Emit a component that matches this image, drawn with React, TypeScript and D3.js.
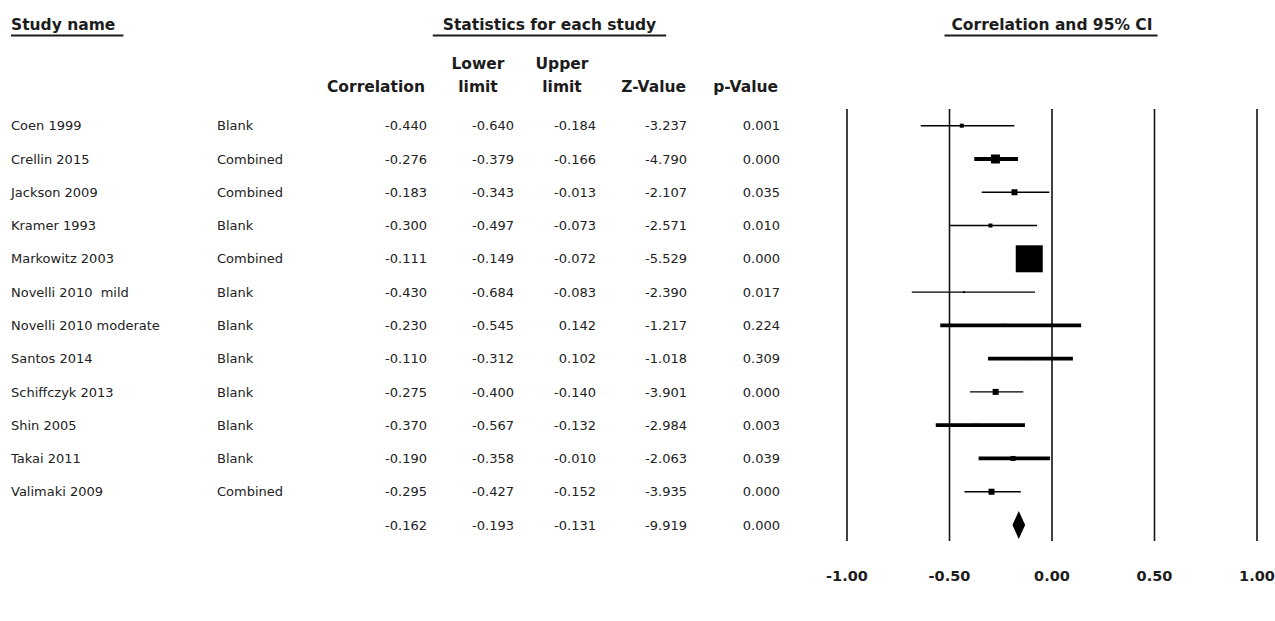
import React, { useEffect, useRef } from 'react';
import * as d3 from 'd3';

// study rows
const studies = [
  'Coen 1999', 'Crellin 2015', 'Jackson 2009', 'Kramer 1993', 'Markowitz 2003',
  'Novelli 2010  mild', 'Novelli 2010 moderate', 'Santos 2014', 'Schiffczyk 2013',
  'Shin 2005', 'Takai 2011', 'Valimaki 2009',
];
const subgroups = [
  'Blank', 'Combined', 'Combined', 'Blank', 'Combined', 'Blank',
  'Blank', 'Blank', 'Blank', 'Blank', 'Blank', 'Combined',
];
const correlation = [-0.44, -0.276, -0.183, -0.3, -0.111, -0.43, -0.23, -0.11, -0.275, -0.37, -0.19, -0.295];
const lowerLimit = [-0.64, -0.379, -0.343, -0.497, -0.149, -0.684, -0.545, -0.312, -0.4, -0.567, -0.358, -0.427];
const upperLimit = [-0.184, -0.166, -0.013, -0.073, -0.072, -0.083, 0.142, 0.102, -0.14, -0.132, -0.01, -0.152];
const zValue = [-3.237, -4.79, -2.107, -2.571, -5.529, -2.39, -1.217, -1.018, -3.901, -2.984, -2.063, -3.935];
const pValue = [0.001, 0.0, 0.035, 0.01, 0.0, 0.017, 0.224, 0.309, 0.0, 0.003, 0.039, 0.0];
// relative weight of each study (square area)
const weights = [16, 81, 36, 16, 729, 4, 9, 9, 36, 9, 25, 36];
// studies whose CI is drawn with the heavy line
const heavyCI = ['Crellin 2015', 'Novelli 2010 moderate', 'Santos 2014', 'Shin 2005', 'Takai 2011'];

// pooled estimate: correlation, lower, upper, z, p
const summaryStats = [-0.162, -0.193, -0.131, -9.919, 0.0];

const axisTicks = [-1, -0.5, 0, 0.5, 1];

const W = 1275;
const H = 621;
const BODY_FONT = '"DejaVu Sans", Verdana, sans-serif';

function ForestPlot() {
  const svgRef = useRef<SVGSVGElement>(null);

  useEffect(() => {
    const svg = d3.select(svgRef.current);
    svg.selectAll('*').remove();

    const nRows = studies.length + 1;
    const y = d3.scalePoint<number>().domain(d3.range(nRows)).range([125.7, 525]);
    const x = d3.scaleLinear().domain([-1, 1]).range([847, 1257]);
    const size = d3.scaleSqrt().domain([0, 729]).range([0, 27]);

    const ink = '#1c1c1c';

    // ---- top headers with underline
    const headers = [
      { text: 'Study name', x: 11, anchor: 'start', padL: 0, padR: 8 },
      { text: 'Statistics for each study', x: 549.5, anchor: 'middle', padL: 10, padR: 10 },
      { text: 'Correlation and 95% CI', x: 1052, anchor: 'middle', padL: 7, padR: 5 },
    ];
    headers.forEach((h) => {
      const t = svg.append('text')
        .attr('x', h.x)
        .attr('y', 30)
        .attr('text-anchor', h.anchor)
        .attr('font-family', BODY_FONT)
        .attr('font-weight', 'bold')
        .attr('font-size', 15.5)
        .attr('fill', ink)
        .text(h.text);
      const bb = (t.node() as SVGTextElement).getBBox();
      svg.append('line')
        .attr('x1', bb.x - h.padL)
        .attr('x2', bb.x + bb.width + h.padR)
        .attr('y1', 35.5)
        .attr('y2', 35.5)
        .attr('stroke', ink)
        .attr('stroke-width', 2);
    });

    // ---- column headers
    const colHeads = [
      { lines: ['Correlation'], x: 425, anchor: 'end' },
      { lines: ['Lower', 'limit'], x: 478, anchor: 'middle' },
      { lines: ['Upper', 'limit'], x: 562, anchor: 'middle' },
      { lines: ['Z-Value'], x: 686, anchor: 'end' },
      { lines: ['p-Value'], x: 778, anchor: 'end' },
    ];
    colHeads.forEach((c) => {
      c.lines.forEach((ln, i) => {
        svg.append('text')
          .attr('x', c.x)
          .attr('y', 92 - (c.lines.length - 1 - i) * 23)
          .attr('text-anchor', c.anchor)
          .attr('font-family', BODY_FONT)
          .attr('font-weight', 'bold')
          .attr('font-size', 15.5)
          .attr('fill', ink)
          .text(ln);
      });
    });

    // ---- table body
    const numCols = [427, 514, 596, 687, 780];
    const rowsText = svg.append('g')
      .attr('font-family', BODY_FONT)
      .attr('font-size', 13)
      .attr('fill', '#222');

    studies.forEach((s, i) => {
      const ty = y(i)! + 4.6;
      rowsText.append('text').attr('x', 11).attr('y', ty)
        .style('white-space', 'pre').text(s);
      rowsText.append('text').attr('x', 217).attr('y', ty).text(subgroups[i]);
      const vals = [correlation[i], lowerLimit[i], upperLimit[i], zValue[i], pValue[i]];
      vals.forEach((v, j) => {
        rowsText.append('text')
          .attr('x', numCols[j])
          .attr('y', ty)
          .attr('text-anchor', 'end')
          .text(v.toFixed(3));
      });
    });
    summaryStats.forEach((v, j) => {
      rowsText.append('text')
        .attr('x', numCols[j])
        .attr('y', y(studies.length)! + 4.6)
        .attr('text-anchor', 'end')
        .text(v.toFixed(3));
    });

    // ---- forest plot
    const plot = svg.append('g');

    plot.selectAll('.ref')
      .data(axisTicks)
      .enter().append('line')
      .attr('x1', (d) => x(d))
      .attr('x2', (d) => x(d))
      .attr('y1', 109)
      .attr('y2', 541)
      .attr('stroke', '#111')
      .attr('stroke-width', 1.6);

    // CI lines
    plot.selectAll('.ci')
      .data(studies)
      .enter().append('line')
      .attr('x1', (_, i) => x(lowerLimit[i]))
      .attr('x2', (_, i) => x(upperLimit[i]))
      .attr('y1', (_, i) => y(i)!)
      .attr('y2', (_, i) => y(i)!)
      .attr('stroke', '#000')
      .attr('stroke-width', (d) => (heavyCI.includes(d) ? 3.8 : 1.4));

    // weight squares
    plot.selectAll('.sq')
      .data(studies)
      .enter().append('rect')
      .attr('x', (_, i) => x(correlation[i]) - size(weights[i]) / 2)
      .attr('y', (_, i) => y(i)! - size(weights[i]) / 2)
      .attr('width', (_, i) => size(weights[i]))
      .attr('height', (_, i) => size(weights[i]))
      .attr('fill', '#000');

    // pooled diamond
    const sy = y(studies.length)!;
    const dh = 14;
    plot.append('path')
      .attr('d', d3.line()([
        [x(summaryStats[1]), sy],
        [x(summaryStats[0]), sy - dh],
        [x(summaryStats[2]), sy],
        [x(summaryStats[0]), sy + dh],
      ]) + 'Z')
      .attr('fill', '#000');

    // axis labels
    plot.selectAll('.tick')
      .data(axisTicks)
      .enter().append('text')
      .attr('x', (d) => x(d))
      .attr('y', 581)
      .attr('text-anchor', 'middle')
      .attr('font-family', BODY_FONT)
      .attr('font-weight', 'bold')
      .attr('font-size', 14.5)
      .attr('fill', ink)
      .text((d) => d.toFixed(2));
  }, []);

  return (
    <svg
      ref={svgRef}
      width={W}
      height={H}
      style={{ position: 'absolute', left: 0, top: 0, background: '#fff' }}
    ></svg>
  );
}

export default function App() {
  return <ForestPlot />;
}
